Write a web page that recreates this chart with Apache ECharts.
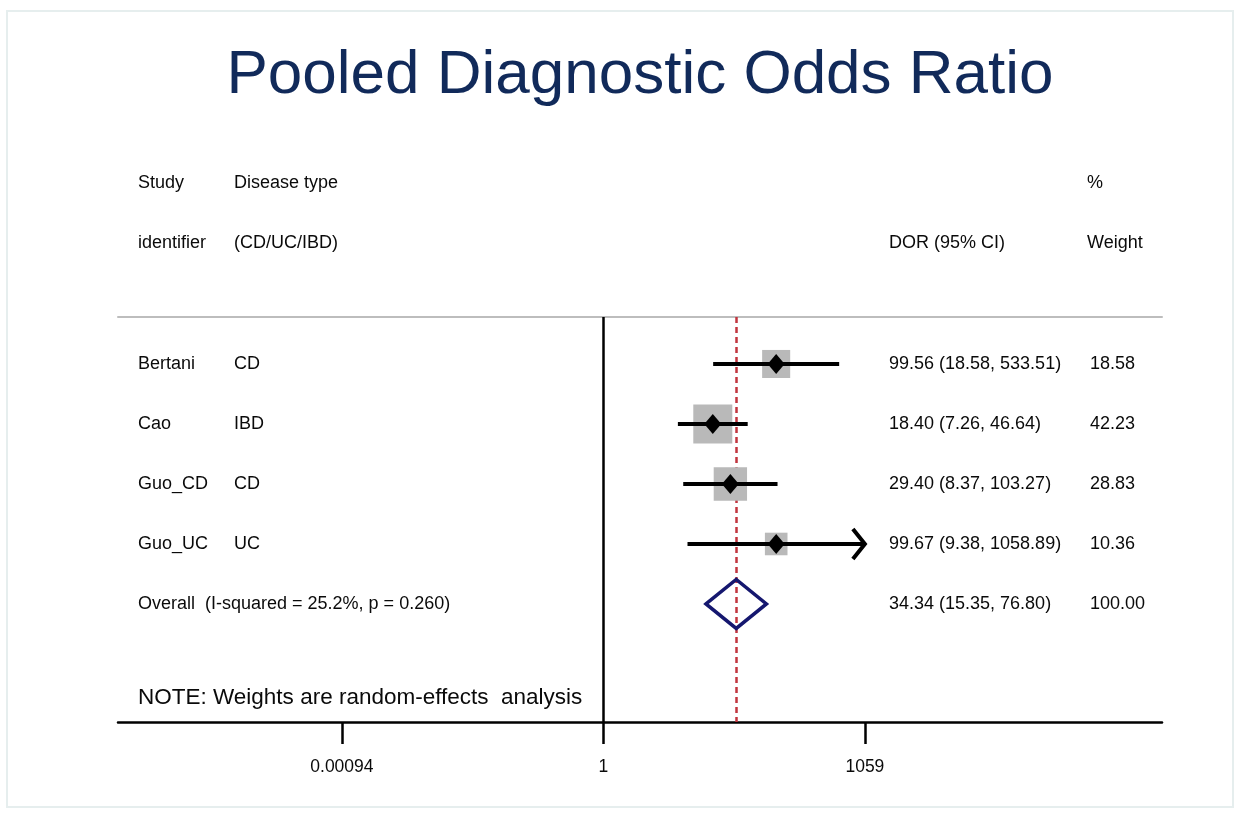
<!DOCTYPE html>
<html>
<head>
<meta charset="utf-8">
<title>Pooled Diagnostic Odds Ratio</title>
<script src="https://cdn.jsdelivr.net/npm/echarts@6/dist/echarts.min.js"></script>
<style>
  html, body { margin: 0; padding: 0; background: #ffffff; }
  #chart { width: 1242px; height: 814px; }
</style>
</head>
<body>
<div id="chart"></div>
<script>
// Study-level diagnostic odds ratios with 95% CI and random-effects weights
const studies   = ['Bertani', 'Cao', 'Guo_CD', 'Guo_UC'];
const diseases  = ['CD', 'IBD', 'CD', 'UC'];
const dor       = [99.56, 18.40, 29.40, 99.67];
const ciLow     = [18.58, 7.26, 8.37, 9.38];
const ciHigh    = [533.51, 46.64, 103.27, 1058.89];
const weights   = [18.58, 42.23, 28.83, 10.36];

// Pooled estimate
const overallLabel  = 'Overall  (I-squared = 25.2%, p = 0.260)';
const overallDor    = 34.34;
const overallLow    = 15.35;
const overallHigh   = 76.80;
const overallWeight = 100.00;

// Axis ticks (log scale)
const tickValues = [0.00094, 1, 1059];
const tickLabels = ['0.00094', '1', '1059'];

const FONT = '"Liberation Sans", Arial, Helvetica, sans-serif';
const TXT = '#0a0a0a';
const lg = Math.log10;
const fmt = v => v.toFixed(2);

// x range in log10 units: the plotted window extends beyond the ticks on both sides
const xMin = -5.618, xMax = 6.463;
// rows sit at 0..4; the frame extends a little above and below them
const yMin = -0.783, yMax = 5.967;

// columns of text placed on a secondary x axis spanning the grid
const colStudy = 138, colDisease = 234, colDor = 889, colWeight = 1090;

const studyData = studies.map((s, i) => [lg(dor[i]), i, lg(ciLow[i]), lg(ciHigh[i]), weights[i]]);
const overallRow = studies.length;

const textRows = [];
studies.forEach((s, i) => {
  textRows.push({ x: colStudy, y: i, t: s });
  textRows.push({ x: colDisease, y: i, t: diseases[i] });
  textRows.push({ x: colDor, y: i, t: `${fmt(dor[i])} (${fmt(ciLow[i])}, ${fmt(ciHigh[i])})` });
  textRows.push({ x: colWeight, y: i, t: fmt(weights[i]) });
});
textRows.push({ x: colStudy, y: overallRow, t: overallLabel });
textRows.push({ x: colDor, y: overallRow, t: `${fmt(overallDor)} (${fmt(overallLow)}, ${fmt(overallHigh)})` });
textRows.push({ x: colWeight, y: overallRow, t: fmt(overallWeight) });

const chart = echarts.init(document.getElementById('chart'), null, { renderer: 'canvas' });

function renderStudy(params, api) {
  const est = api.coord([api.value(0), api.value(1)]);
  const lo = api.coord([api.value(2), api.value(1)]);
  const hi = api.coord([api.value(3), api.value(1)]);
  const w = api.value(4);
  const side = 5 * Math.sqrt(w) + 6.5;
  const children = [
    {
      type: 'rect',
      shape: { x: est[0] - side / 2, y: est[1] - side / 2, width: side, height: side },
      style: { fill: '#b9b9b9' }
    },
    {
      type: 'line',
      shape: { x1: lo[0], y1: lo[1], x2: hi[0], y2: hi[1] },
      style: { stroke: '#000', lineWidth: 4 }
    },
    {
      type: 'polygon',
      shape: { points: [[est[0], est[1] - 10], [est[0] + 8.5, est[1]], [est[0], est[1] + 10], [est[0] - 8.5, est[1]]] },
      style: { fill: '#000' }
    }
  ];
  // upper limit reaching the axis edge is drawn as an open arrow
  if (ciHigh[params.dataIndex] >= tickValues[2] - 0.5) {
    children.push({
      type: 'polyline',
      shape: { points: [[hi[0] - 12, hi[1] - 15], [hi[0], hi[1]], [hi[0] - 12, hi[1] + 15]] },
      style: { stroke: '#000', lineWidth: 4, fill: null, lineJoin: 'miter' }
    });
  }
  return { type: 'group', children };
}

function renderOverall(params, api) {
  const est = api.coord([api.value(0), api.value(1)]);
  const lo = api.coord([api.value(2), api.value(1)]);
  const hi = api.coord([api.value(3), api.value(1)]);
  const h = 24.5;
  return {
    type: 'polygon',
    shape: { points: [[lo[0], lo[1]], [est[0], est[1] - h], [hi[0], hi[1]], [est[0], est[1] + h]] },
    style: { fill: null, stroke: '#15176f', lineWidth: 3.5, lineJoin: 'miter' }
  };
}

function renderText(params, api) {
  const p = api.coord([api.value(0), api.value(1)]);
  return {
    type: 'text',
    x: p[0], y: p[1],
    style: {
      text: textRows[params.dataIndex].t,
      fill: TXT, font: `18px ${FONT}`,
      align: 'left', verticalAlign: 'middle'
    }
  };
}

const headStyle = t => ({ text: t, fill: TXT, font: `18px ${FONT}`, verticalAlign: 'middle' });

const option = {
  backgroundColor: '#ffffff',
  animation: false,
  graphic: [
    { type: 'rect', shape: { x: 7, y: 11, width: 1226, height: 796 }, style: { fill: null, stroke: '#e6eeee', lineWidth: 2 }, z: -1 },
    { type: 'text', x: 640, y: 76, style: { text: 'Pooled Diagnostic Odds Ratio', fill: '#112a5a', font: `62px ${FONT}`, align: 'center', verticalAlign: 'middle' } },
    { type: 'text', x: colStudy, y: 183, style: headStyle('Study') },
    { type: 'text', x: colDisease, y: 183, style: headStyle('Disease type') },
    { type: 'text', x: 1087, y: 183, style: headStyle('%') },
    { type: 'text', x: colStudy, y: 243, style: headStyle('identifier') },
    { type: 'text', x: colDisease, y: 243, style: headStyle('(CD/UC/IBD)') },
    { type: 'text', x: colDor, y: 243, style: headStyle('DOR (95% CI)') },
    { type: 'text', x: 1087, y: 243, style: headStyle('Weight') },
    { type: 'text', x: colStudy, y: 698, style: { text: 'NOTE: Weights are random-effects  analysis', fill: TXT, font: `22.5px ${FONT}`, verticalAlign: 'middle' } }
  ],
  grid: { left: 118, right: 80, top: 317, bottom: 92, containLabel: false },
  xAxis: [
    {
      type: 'value', min: xMin, max: xMax, position: 'bottom',
      splitLine: { show: false },
      axisLine: { show: true, onZero: false, lineStyle: { color: '#000', width: 2.5 } },
      axisTick: { show: true, length: 22, customValues: tickValues.map(lg), lineStyle: { color: '#000', width: 2.5 } },
      axisLabel: {
        show: true, margin: 36, customValues: tickValues.map(lg),
        color: TXT, fontSize: 17.5, fontFamily: FONT,
        formatter: v => {
          const k = tickValues.findIndex(t => Math.abs(lg(t) - v) < 1e-6);
          return k >= 0 ? tickLabels[k] : '';
        }
      }
    },
    {
      type: 'value', min: 118, max: 1162, position: 'top',
      splitLine: { show: false },
      axisLine: { show: true, onZero: false, lineStyle: { color: '#bdbdbd', width: 2 } },
      axisTick: { show: false }, axisLabel: { show: false }
    }
  ],
  yAxis: { type: 'value', min: yMin, max: yMax, inverse: true, show: false },
  series: [
    {
      type: 'line', xAxisIndex: 0, data: [], z: 1, silent: true,
      markLine: {
        symbol: 'none', silent: true, animation: false,
        label: { show: false },
        data: [
          { xAxis: lg(1), lineStyle: { color: '#000', width: 2.5, type: 'solid' } },
          { xAxis: lg(overallDor), lineStyle: { color: '#c1343e', width: 2.5, type: [6, 4] } }
        ]
      }
    },
    {
      type: 'custom', xAxisIndex: 0, z: 5, clip: false,
      renderItem: renderStudy,
      data: studyData
    },
    {
      type: 'custom', xAxisIndex: 0, z: 5, clip: false,
      renderItem: renderOverall,
      data: [[lg(overallDor), overallRow, lg(overallLow), lg(overallHigh)]]
    },
    {
      type: 'custom', xAxisIndex: 1, z: 6, clip: false,
      renderItem: renderText,
      data: textRows.map(r => [r.x, r.y])
    }
  ]
};

chart.setOption(option);
</script>
</body>
</html>
